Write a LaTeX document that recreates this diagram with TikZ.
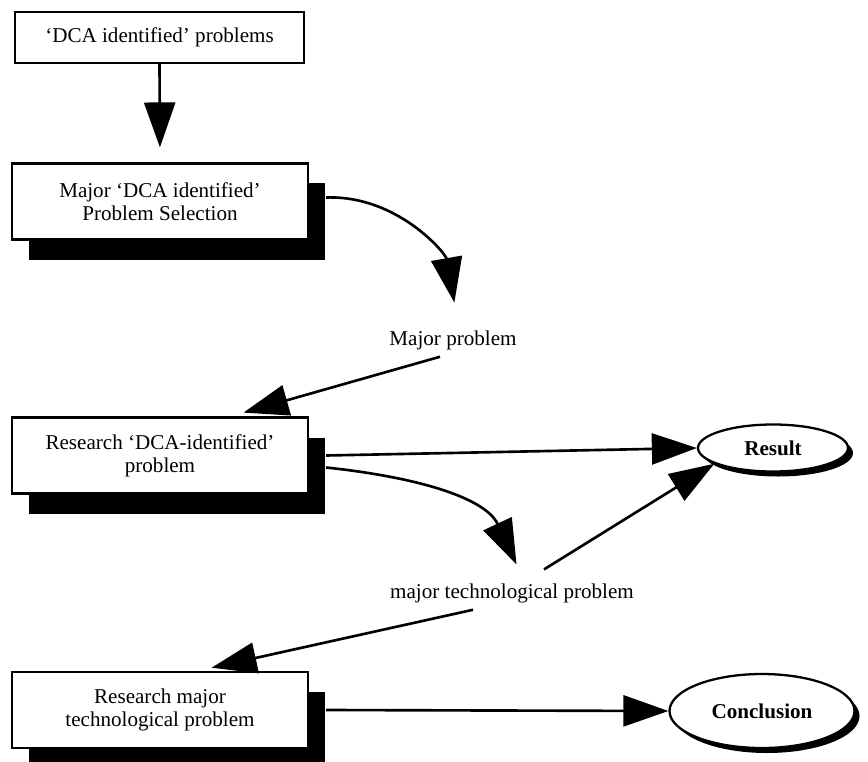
\documentclass[tikz,border=0pt]{standalone}
\usepackage{fontspec}
\setmainfont{Liberation Serif}
\usetikzlibrary{arrows.meta, positioning, shapes.geometric, shadows}
\tikzset{
  every picture/.style={font=\fontsize{12}{13}\selectfont, line width=1.5pt},
  box/.style={draw, fill=white, align=center, line width=1.2pt, minimum width=5.92cm, minimum height=1.52cm},
  shbox/.style={box, drop shadow={shadow xshift=0.33cm, shadow yshift=-0.4cm, fill=black, opacity=1}},
  endpt/.style={ellipse, draw, fill=white, inner sep=0pt, line width=1.3pt, font=\fontsize{12}{13}\selectfont\bfseries,
    drop shadow={shadow xshift=0.1cm, shadow yshift=-0.1cm, fill=black, opacity=1}},
  arrow/.style={-{Triangle[length=0.9cm, width=0.62cm]}, line width=1.5pt},
  label/.style={align=center},
}
\begin{document}
\begin{tikzpicture}
  \useasboundingbox (0,0) rectangle (17.36,-15.22);
  \node[box, minimum width=5.78cm, minimum height=1.02cm] (found) at (3.19,-0.75) {`DCA identified' problems};
  \node[shbox] (select) at (3.2,-4.03) {Major `DCA identified'\\Problem Selection};
  \node[shbox] (resdca) at (3.2,-9.11) {Research `DCA-identified'\\problem};
  \node[shbox] (restech) at (3.2,-14.2) {Research major\\technological problem};
  \node[label] (major) at (9.06,-6.8) {Major problem};
  \node[label] (mtech) at (10.24,-11.86) {major technological problem};
  \node[endpt, minimum width=3.0cm, minimum height=0.94cm] (result) at (15.46,-8.96) {Result};
  \node[endpt, minimum width=3.7cm, minimum height=1.48cm] (concl) at (15.24,-14.22) {Conclusion};
  \draw[arrow, shorten >=0.3cm] (found.south) -- (select.north);
  \draw[arrow, shorten >=0.42cm] ([xshift=0.34cm,yshift=0.08cm]select.east) to[out=2, in=100] ([xshift=0.1cm]major.north);
  \draw[arrow, shorten >=0.28cm] ([xshift=-0.26cm]major.south) -- ([xshift=1.4cm]resdca.north);
  \draw[arrow] ([xshift=0.34cm]resdca.east) -- (result.west);
  \draw[arrow, shorten >=0.26cm] ([xshift=0.34cm,yshift=-0.24cm]resdca.east) to[out=-6, in=115] ([xshift=0.2cm]mtech.north);
  \draw[arrow, shorten <=0.26cm] ([xshift=0.42cm]mtech.north) -- (result.195);
  \draw[arrow, shorten >=0.3cm] ([xshift=-0.78cm]mtech.south) -- ([xshift=0.74cm]restech.north);
  \draw[arrow] ([xshift=0.34cm]restech.east) -- (concl.west);
\end{tikzpicture}
\end{document}
